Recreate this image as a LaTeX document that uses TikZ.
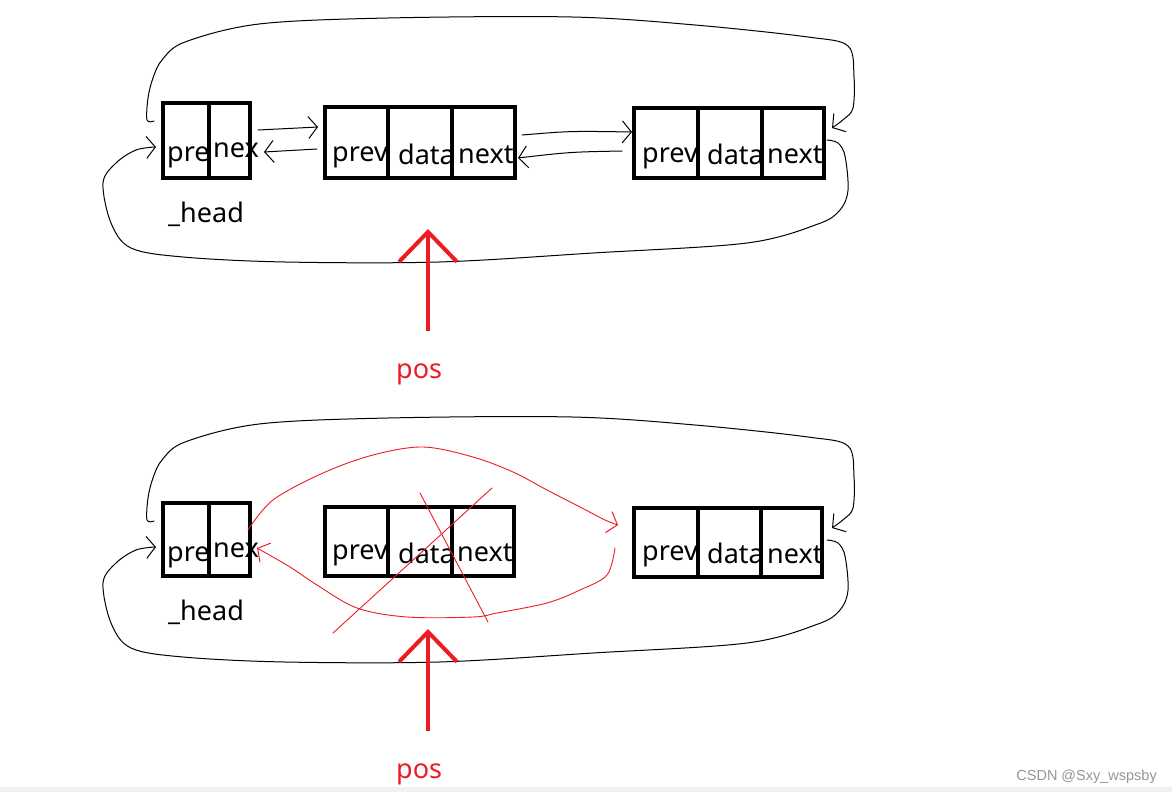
\documentclass[tikz,border=0pt]{standalone}
\usepackage{fontspec}
\setmainfont{Noto Sans}
\newfontfamily\wmfont{Liberation Sans}
\usetikzlibrary{arrows.meta}
\definecolor{pred}{RGB}{237,28,36}
\definecolor{wmgray}{RGB}{150,150,150}
\begin{document}
\begin{tikzpicture}[x=1pt,y=-1pt,
  cell/.style={draw, line width=4pt, inner sep=0pt, minimum width=#1},
  hh/.style={minimum height=75pt},
  txt/.style={anchor=base west, inner sep=0pt, font=\fontsize{27}{30}\selectfont},
  hand/.style={line width=1pt, line cap=round, line join=round},
  barb/.style={-{Straight Barb[length=9pt,width=22pt,line width=1pt]}},
  redhand/.style={hand, draw=pred, line width=0.9pt},
  posarrow/.style={draw=pred, line width=4pt, -{Straight Barb[length=30pt,width=58pt,line width=4pt]}},
  postxt/.style={anchor=base west, inner sep=0pt, text=pred, font=\fontsize{27}{30}\selectfont}]
\useasboundingbox[fill=white] (0,0) rectangle (1172,792);
\fill[gray!10] (0,787) rectangle (1172,792);

% ================= TOP DIAGRAM =================
% texts
\node[txt] (t1) at (167,161) {pre};
\node[txt] (t2) at (213,157) {nex};
\node[txt] (t3) at (332,161) {prev};
\node[txt] (t4) at (398,164) {data};
\node[txt] (t5) at (458,163) {next};
\node[txt] (t6) at (642,162) {prev};
\node[txt] (t7) at (707,164) {data};
\node[txt] (t8) at (767,163) {next};
\node[txt] (hd1) at (168,222) {\_head};
% cells
\node[cell=46pt, minimum height=75pt] (A1p) at (186,140.5) {};
\node[cell=41pt, minimum height=75pt] (A1n) at (229.5,140.5) {};
\node[cell=63pt, minimum height=71pt] (B1p) at (356.5,142.5) {};
\node[cell=64pt, minimum height=71pt] (B1d) at (420,142.5) {};
\node[cell=63pt, minimum height=71pt] (B1n) at (483.5,142.5) {};
\node[cell=64pt, minimum height=70pt] (C1p) at (666,143) {};
\node[cell=64pt, minimum height=70pt] (C1d) at (730,143) {};
\node[cell=62pt, minimum height=70pt] (C1n) at (793,143) {};
% links
\draw[hand,barb] (258,130) -- (318,127);
\draw[hand,barb] (317,149) -- (264,152);
\draw[hand,barb] (522,135) .. controls (570,131) .. (632,132);
\draw[hand,barb] (622,151) .. controls (570,152) .. (518,158);
\draw[hand,barb] plot[smooth,tension=0.55] coordinates {(154,121) (147,120) (148,98) (153,78) (162,60) (185,42) (259,24) (388,18) (572,17) (695,25) (808,37) (848,46) (854,77) (853,108) (844,119) (832,128)};
\draw[hand,barb] plot[smooth,tension=0.55] coordinates {(827,140) (838,143) (845,156) (848,190) (840,210) (818,224) (747,243) (593,253) (439,262) (285,262) (183,257) (131,248) (111,223) (103,183) (116,163) (136,150) (156,147)};
% pos
\node[postxt] (pos1) at (396,378) {pos};
\coordinate (tip1) at (428,229);
\draw[posarrow] (428,331) -- (tip1);

% ================= BOTTOM DIAGRAM =================
\node[txt] (s1) at (167,561) {pre};
\node[txt] (s2) at (213,557) {nex};
\node[txt] (s3) at (332,559) {prev};
\node[txt] (s4) at (398,563) {data};
\node[txt] (s5) at (457,561) {next};
\node[txt] (s6) at (642,560) {prev};
\node[txt] (s7) at (707,563) {data};
\node[txt] (s8) at (767,563) {next};
\node[txt] (hd2) at (168,620) {\_head};
\node[cell=46pt, minimum height=73pt] (A2p) at (186,539.5) {};
\node[cell=41pt, minimum height=73pt] (A2n) at (229.5,539.5) {};
\node[cell=63pt, minimum height=69pt] (B2p) at (356.5,541.5) {};
\node[cell=64pt, minimum height=69pt] (B2d) at (420,541.5) {};
\node[cell=62pt, minimum height=69pt] (B2n) at (483,541.5) {};
\node[cell=64pt, minimum height=69pt] (C2p) at (666,542.5) {};
\node[cell=63pt, minimum height=69pt] (C2d) at (729.5,542.5) {};
\node[cell=61pt, minimum height=69pt] (C2n) at (791.5,542.5) {};
% black loops
\draw[hand,barb] plot[smooth,tension=0.55] coordinates {(154,521) (147,520) (148,498) (153,478) (162,460) (185,442) (259,424) (388,418) (572,417) (695,425) (808,437) (848,446) (854,477) (853,508) (844,519) (832,528)};
\draw[hand,barb] plot[smooth,tension=0.55] coordinates {(827,540) (838,543) (845,556) (848,590) (840,610) (818,624) (747,643) (593,653) (439,662) (285,662) (183,657) (131,648) (111,623) (103,583) (116,563) (136,550) (156,547)};
% red links
\draw[redhand,barb] plot[smooth,tension=0.55] coordinates {(248,530) (273,500) (323,473) (373,455) (423,447) (473,457) (513,472) (547,490) (580,507) (605,520) (618,525)};
\draw[redhand,barb] plot[smooth,tension=0.55] coordinates {(615,548) (607,575) (580,590) (547,603) (497,613) (473,617) (407,617) (357,608) (317,585) (290,567) (257,548)};
\draw[redhand] (420,493) -- (488,622);
\draw[redhand] (492,488) -- (333,633);
% pos
\node[postxt] (pos2) at (396,778) {pos};
\coordinate (tip2) at (428,629);
\draw[posarrow] (428,731) -- (tip2);

% watermark
\node[anchor=base east, inner sep=0pt, text=wmgray, font=\wmfont\fontsize{14.5}{16}\selectfont] (wm) at (1157,780) {CSDN @Sxy\_wspsby};
\end{tikzpicture}
\end{document}
